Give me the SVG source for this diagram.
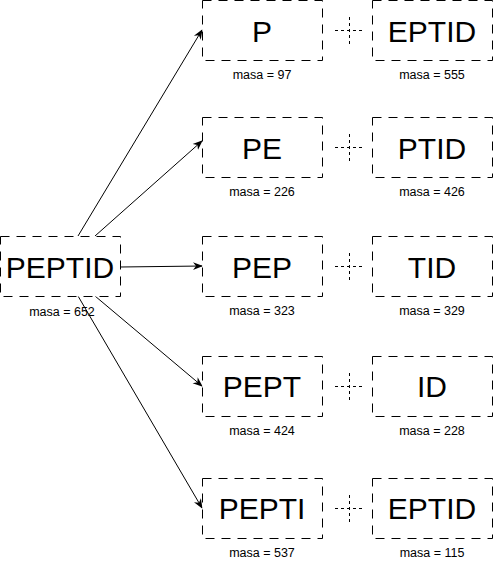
<svg xmlns="http://www.w3.org/2000/svg" width="494" height="566" viewBox="0 0 494 566">
<style>
.box{fill:#fff;stroke:#000;stroke-width:1;stroke-dasharray:9 7}
.big{font-family:"Liberation Sans",Arial,sans-serif;font-size:30px;text-anchor:middle;dominant-baseline:central;fill:#000}
.lbl{font-family:"Liberation Sans",Arial,sans-serif;font-size:12.5px;text-anchor:middle;fill:#000}
.cross{stroke:#000;stroke-width:1;stroke-dasharray:3 3;fill:none}
.edge{stroke:#000;stroke-width:1;fill:none;marker-end:url(#arr)}
</style>
<defs>
<marker id="arr" markerWidth="10" markerHeight="10" refX="9" refY="5" orient="auto" markerUnits="userSpaceOnUse">
<path d="M0,1 L10,5 L0,9 L3,5 Z" fill="#000"/>
</marker>
</defs>
<rect width="494" height="566" fill="#fff"/>
<g id="connectors">
<path class="edge" d="M78,236 L202,30"/>
<path class="edge" d="M95,236 L202,141"/>
<path class="edge" d="M120,267 L202,266"/>
<path class="edge" d="M95,296 L202,386"/>
<path class="edge" d="M78,296 L202,508"/>
</g>
<g id="PEPTID"><rect class="box" x="0.5" y="236.5" width="120" height="60"/><text class="big" x="60" y="267">PEPTID</text><text class="lbl" x="62" y="316">masa = 652</text></g>
<g id="P"><rect class="box" x="202.5" y="0.5" width="120" height="60"/><text class="big" x="262" y="31">P</text><text class="lbl" x="262" y="79">masa = 97</text></g>
<g id="EPTID1"><rect class="box" x="372.5" y="0.5" width="120" height="60"/><text class="big" x="432" y="31">EPTID</text><text class="lbl" x="432" y="79">masa = 555</text></g>
<g id="PE"><rect class="box" x="202.5" y="117.5" width="120" height="60"/><text class="big" x="262" y="148">PE</text><text class="lbl" x="262" y="196">masa = 226</text></g>
<g id="PTID"><rect class="box" x="372.5" y="117.5" width="120" height="60"/><text class="big" x="432" y="148">PTID</text><text class="lbl" x="432" y="196">masa = 426</text></g>
<g id="PEP"><rect class="box" x="202.5" y="236.5" width="120" height="60"/><text class="big" x="262" y="267">PEP</text><text class="lbl" x="262" y="315">masa = 323</text></g>
<g id="TID"><rect class="box" x="372.5" y="236.5" width="120" height="60"/><text class="big" x="432" y="267">TID</text><text class="lbl" x="432" y="315">masa = 329</text></g>
<g id="PEPT"><rect class="box" x="202.5" y="356.5" width="120" height="60"/><text class="big" x="262" y="386">PEPT</text><text class="lbl" x="262" y="435">masa = 424</text></g>
<g id="ID"><rect class="box" x="372.5" y="356.5" width="120" height="60"/><text class="big" x="432" y="386">ID</text><text class="lbl" x="432" y="435">masa = 228</text></g>
<g id="PEPTI"><rect class="box" x="202.5" y="478.5" width="120" height="60"/><text class="big" x="262" y="508">PEPTI</text><text class="lbl" x="262" y="557">masa = 537</text></g>
<g id="EPTID2"><rect class="box" x="372.5" y="478.5" width="120" height="60"/><text class="big" x="432" y="508">EPTID</text><text class="lbl" x="432" y="557">masa = 115</text></g>
<g id="plus1"><path class="cross" d="M335,30.5 H363 M349.5,17 V44"/></g>
<g id="plus2"><path class="cross" d="M335,147.5 H363 M349.5,134 V161"/></g>
<g id="plus3"><path class="cross" d="M335,266.5 H363 M349.5,253 V280"/></g>
<g id="plus4"><path class="cross" d="M335,386.5 H363 M349.5,373 V400"/></g>
<g id="plus5"><path class="cross" d="M335,508.5 H363 M349.5,495 V522"/></g>
</svg>
